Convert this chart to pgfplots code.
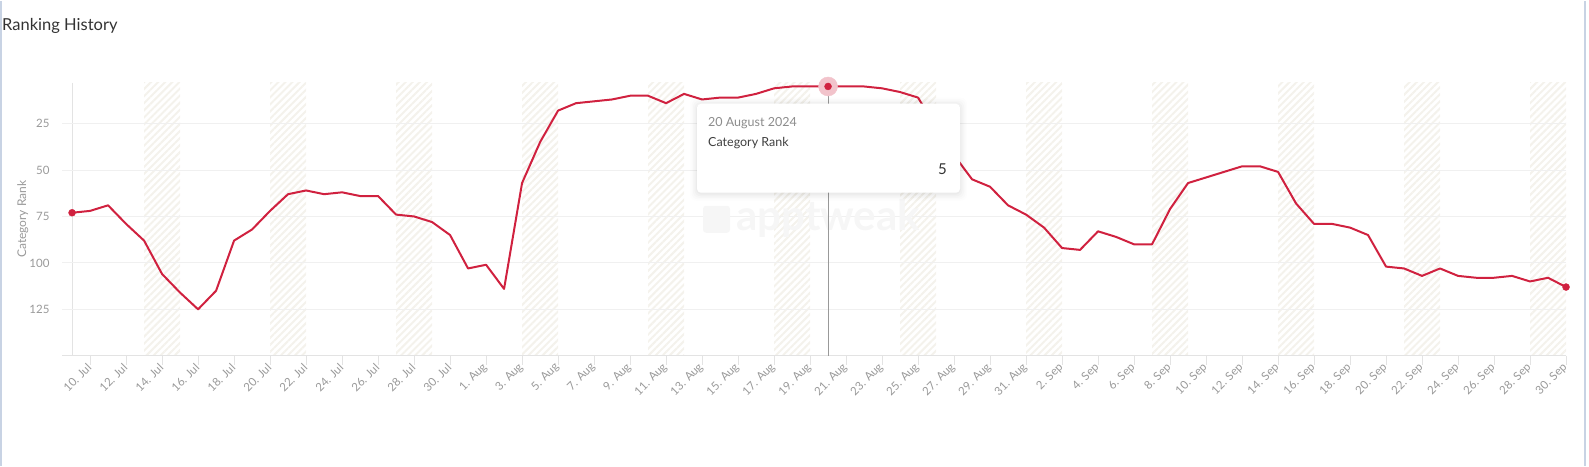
\documentclass[border=0pt]{standalone}
\usepackage{fontspec}
\setmainfont{Lato}
\usepackage{pgfplots}
\pgfplotsset{compat=1.18}
\usetikzlibrary{patterns.meta}

\definecolor{linered}{HTML}{D0213F}
\definecolor{ticklab}{HTML}{999999}
\definecolor{gridc}{HTML}{F0F0F0}
\definecolor{axisc}{HTML}{E3E3E3}
\definecolor{hatch}{HTML}{F4F2EC}
\definecolor{borderc}{HTML}{C8D3E4}
\definecolor{halo}{HTML}{F2C3CB}
\definecolor{wm}{HTML}{F6F6F6}

\pgfplotstableread{
i r
0 73
1 72
2 69
3 79
4 88
5 106
6 116
7 125
8 115
9 88
10 82
11 72
12 63
13 61
14 63
15 62
16 64
17 64
18 74
19 75
20 78
21 85
22 103
23 101
24 114
25 57
26 35
27 18
28 14
29 13
30 12
31 10
32 10
33 14
34 9
35 12
36 11
37 11
38 9
39 6
40 5
41 5
42 5
43 5
44 5
45 6
46 8
47 11
48 27
49 42
50 55
51 59
52 69
53 74
54 81
55 92
56 93
57 83
58 86
59 90
60 90
61 71
62 57
63 54
64 51
65 48
66 48
67 51
68 68
69 79
70 79
71 81
72 85
73 102
74 103
75 107
76 103
77 107
78 108
79 108
80 107
81 110
82 108
83 113
}\rankdata

\begin{document}
\begin{tikzpicture}
\path (0pt,0pt) rectangle (1589pt,465pt);
\draw[borderc, line width=1.5pt] (0.75pt,0pt) -- (0.75pt,465pt);
\draw[borderc, line width=1.5pt] (1585pt,0pt) -- (1585pt,465pt);

% title
\node[anchor=base west, inner sep=0pt, text=black!80] at (2pt,435pt) {\fontsize{16.5}{19}\selectfont Ranking History};

% watermark
\fill[wm, rounded corners=3pt] (703pt,233pt) rectangle (730pt,260pt);
\node[anchor=base west, inner sep=0pt, text=wm] at (736pt,235pt) {\fontsize{42}{46}\selectfont\bfseries apptweak};

\begin{axis}[
  set layers,
  at={(62pt,110pt)}, anchor=south west,
  scale only axis, width=1504pt, height=273pt,
  xmin=-0.56, xmax=83, ymin=3, ymax=150, y dir=reverse,
  axis x line*=bottom, axis y line*=left,
  y axis line style={draw=none},
  x axis line style={draw=axisc, line width=1.3pt},
  xtick={1,3,...,83},
  xticklabels={10. Jul,12. Jul,14. Jul,16. Jul,18. Jul,20. Jul,22. Jul,24. Jul,26. Jul,28. Jul,30. Jul,1. Aug,3. Aug,5. Aug,7. Aug,9. Aug,11. Aug,13. Aug,15. Aug,17. Aug,19. Aug,21. Aug,23. Aug,25. Aug,27. Aug,29. Aug,31. Aug,2. Sep,4. Sep,6. Sep,8. Sep,10. Sep,12. Sep,14. Sep,16. Sep,18. Sep,20. Sep,22. Sep,24. Sep,26. Sep,28. Sep,30. Sep},
  ytick={25,50,75,100,125},
  ymajorgrids, grid style={draw=gridc, line width=0.9pt},
  tick align=outside, major tick length=9pt,
  xtick style={draw=axisc, line width=1pt},
  ytick style={draw=none},
  x tick label style={rotate=45, anchor=east, inner sep=1pt, font=\fontsize{11.5}{13}\selectfont, text=ticklab},
  y tick label style={font=\fontsize{11.5}{13}\selectfont, text=ticklab},
  /pgf/number format/assume math mode=true,
  ylabel={Category Rank},
  ylabel style={at={(axis description cs:-0.026,0.5)}, anchor=center, font=\fontsize{12}{14}\selectfont, text=ticklab},
  clip=false,
]
\begin{pgfonlayer}{axis background}
\fill[pattern={Lines[angle=45,distance=5pt,line width=2pt]}, pattern color=hatch] (axis cs:4,3) rectangle (axis cs:6,150);
\fill[pattern={Lines[angle=45,distance=5pt,line width=2pt]}, pattern color=hatch] (axis cs:11,3) rectangle (axis cs:13,150);
\fill[pattern={Lines[angle=45,distance=5pt,line width=2pt]}, pattern color=hatch] (axis cs:18,3) rectangle (axis cs:20,150);
\fill[pattern={Lines[angle=45,distance=5pt,line width=2pt]}, pattern color=hatch] (axis cs:25,3) rectangle (axis cs:27,150);
\fill[pattern={Lines[angle=45,distance=5pt,line width=2pt]}, pattern color=hatch] (axis cs:32,3) rectangle (axis cs:34,150);
\fill[pattern={Lines[angle=45,distance=5pt,line width=2pt]}, pattern color=hatch] (axis cs:39,3) rectangle (axis cs:41,150);
\fill[pattern={Lines[angle=45,distance=5pt,line width=2pt]}, pattern color=hatch] (axis cs:46,3) rectangle (axis cs:48,150);
\fill[pattern={Lines[angle=45,distance=5pt,line width=2pt]}, pattern color=hatch] (axis cs:53,3) rectangle (axis cs:55,150);
\fill[pattern={Lines[angle=45,distance=5pt,line width=2pt]}, pattern color=hatch] (axis cs:60,3) rectangle (axis cs:62,150);
\fill[pattern={Lines[angle=45,distance=5pt,line width=2pt]}, pattern color=hatch] (axis cs:67,3) rectangle (axis cs:69,150);
\fill[pattern={Lines[angle=45,distance=5pt,line width=2pt]}, pattern color=hatch] (axis cs:74,3) rectangle (axis cs:76,150);
\fill[pattern={Lines[angle=45,distance=5pt,line width=2pt]}, pattern color=hatch] (axis cs:81,3) rectangle (axis cs:83,150);
\draw[axisc, line width=1pt] (axis cs:0,3) -- (axis cs:0,150);
\end{pgfonlayer}

\draw[black!40, line width=0.9pt] (axis cs:42,5) -- (axis cs:42,150);
\addplot[linered, line width=2pt, line join=round] table[x=i, y=r] {\rankdata};
\addplot[only marks, mark=*, mark size=3.5pt, linered] coordinates {(0,73) (83,113)};
\addplot[only marks, mark=*, mark size=9.5pt, color=halo, mark options={draw=halo, fill=halo}] coordinates {(42,5)};
\addplot[only marks, mark=*, mark size=3.5pt, linered] coordinates {(42,5)};
\end{axis}

% tooltip
\foreach \s/\o in {7/0.008,5.5/0.012,4/0.016,2.5/0.02,1/0.025}{
  \fill[black, opacity=\o, rounded corners=6pt] ({697pt-\s pt},{272pt-\s pt}) rectangle ({960pt+\s pt},{361pt+\s pt});
}
\fill[white, rounded corners=4pt] (697pt,273pt) rectangle (960pt,362pt);
\node[anchor=base west, inner sep=0pt, text=black!45] at (708pt,339pt) {\fontsize{12.5}{15}\selectfont 20 August 2024};
\node[anchor=base west, inner sep=0pt, text=black!75] at (708pt,319pt) {\fontsize{12.5}{15}\selectfont Category Rank};
\node[anchor=base east, inner sep=0pt, text=black!80] at (947pt,291pt) {\fontsize{15}{18}\selectfont 5};
\end{tikzpicture}
\end{document}
